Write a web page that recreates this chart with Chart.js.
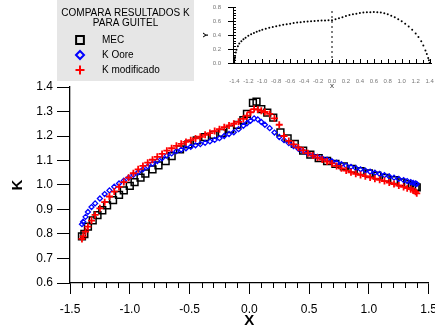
<!DOCTYPE html>
<html>
<head>
<meta charset="utf-8">
<script src="https://cdn.jsdelivr.net/npm/chart.js@4.4.0/dist/chart.umd.min.js"></script>
<style>
  body { margin: 0; background: #fff; }
  #marco { position: relative; width: 435px; height: 328px; }
  #principal { position: absolute; left: 0; top: 0; }
  #perfil { position: absolute; left: 200px; top: 0; }
</style>
</head>
<body>
<div id="marco">
  <canvas id="principal" width="435" height="328"></canvas>
  <canvas id="perfil" width="235" height="92"></canvas>
</div>
<script>
// resultados MEC
const xMec = [-1.40, -1.38, -1.35, -1.31, -1.27, -1.23, -1.19, -1.14, -1.09, -1.05,
  -1.00, -0.96, -0.91, -0.87, -0.81, -0.76, -0.70, -0.65, -0.58, -0.51,
  -0.44, -0.37, -0.30, -0.23, -0.16, -0.10, -0.05, -0.02, 0.03, 0.06,
  0.10, 0.15, 0.20, 0.26, 0.32, 0.38, 0.45, 0.51, 0.58, 0.65,
  0.72, 0.79, 0.86, 0.93, 1.00, 1.07, 1.14, 1.21, 1.27, 1.32,
  1.36, 1.39, 1.40];
const kMec = [0.79, 0.80, 0.83, 0.856, 0.877, 0.897, 0.917, 0.938, 0.960, 0.978,
  0.996, 1.012, 1.030, 1.047, 1.064, 1.080, 1.098, 1.118, 1.145, 1.166,
  1.182, 1.195, 1.205, 1.213, 1.228, 1.245, 1.265, 1.29, 1.335, 1.34,
  1.31, 1.295, 1.275, 1.215, 1.19, 1.168, 1.140, 1.124, 1.110, 1.098,
  1.086, 1.076, 1.066, 1.057, 1.047, 1.038, 1.029, 1.020, 1.011, 1.003,
  0.997, 0.992, 0.990];

// paneles para K Oore y K modificado
const xPanel = [-1.40, -1.39, -1.37, -1.35, -1.32, -1.29, -1.25, -1.21, -1.17, -1.13,
  -1.09, -1.05, -1.01, -0.97, -0.93, -0.89, -0.85, -0.81, -0.77, -0.73,
  -0.69, -0.65, -0.61, -0.57, -0.53, -0.49, -0.45, -0.41, -0.37, -0.33,
  -0.29, -0.25, -0.21, -0.17, -0.13, -0.09, -0.05, -0.02, 0.01, 0.04,
  0.07, 0.10, 0.13, 0.17, 0.21, 0.25, 0.29, 0.33, 0.37, 0.41,
  0.45, 0.49, 0.53, 0.57, 0.61, 0.65, 0.69, 0.73, 0.77, 0.81,
  0.85, 0.89, 0.93, 0.97, 1.01, 1.05, 1.09, 1.13, 1.17, 1.21,
  1.25, 1.29, 1.32, 1.35, 1.37, 1.39, 1.40];
const kOore = [0.84, 0.85, 0.87, 0.89, 0.91, 0.925, 0.945, 0.963, 0.978, 0.993,
  1.006, 1.018, 1.030, 1.041, 1.052, 1.064, 1.076, 1.087, 1.098, 1.109,
  1.120, 1.129, 1.138, 1.144, 1.150, 1.156, 1.162, 1.167, 1.172, 1.178,
  1.184, 1.191, 1.200, 1.208, 1.215, 1.228, 1.242, 1.252, 1.262, 1.272,
  1.268, 1.257, 1.246, 1.232, 1.214, 1.196, 1.183, 1.171, 1.159, 1.148,
  1.138, 1.129, 1.121, 1.115, 1.109, 1.103, 1.097, 1.091, 1.085, 1.079,
  1.074, 1.069, 1.064, 1.059, 1.054, 1.050, 1.045, 1.040, 1.035, 1.030,
  1.025, 1.020, 1.016, 1.012, 1.009, 1.006, 1.004];
const kModificado = [0.78, 0.79, 0.81, 0.83, 0.855, 0.878, 0.905, 0.93, 0.953, 0.973,
  0.992, 1.012, 1.030, 1.048, 1.064, 1.078, 1.091, 1.103, 1.115, 1.127,
  1.140, 1.150, 1.160, 1.168, 1.176, 1.183, 1.190, 1.197, 1.205, 1.212,
  1.220, 1.228, 1.236, 1.243, 1.250, 1.258, 1.270, 1.283, 1.297, 1.310,
  1.308, 1.303, 1.298, 1.290, 1.272, 1.246, 1.200, 1.180, 1.166, 1.153,
  1.141, 1.130, 1.120, 1.112, 1.104, 1.096, 1.088, 1.078, 1.068, 1.059,
  1.052, 1.046, 1.041, 1.036, 1.031, 1.026, 1.021, 1.016, 1.010, 1.004,
  0.998, 0.992, 0.987, 0.983, 0.978, 0.972, 0.966];

// perfil (grafico chico)
const xPerfil = [-1.40, -1.395, -1.39, -1.38, -1.37, -1.35, -1.33, -1.30, -1.27, -1.24,
  -1.20, -1.16, -1.12, -1.08, -1.04, -1.00, -0.95, -0.90, -0.85, -0.80,
  -0.75, -0.70, -0.65, -0.60, -0.55, -0.50, -0.45, -0.40, -0.35, -0.30,
  -0.25, -0.20, -0.15, -0.10, -0.05, 0.00, 0.05, 0.10, 0.15, 0.20,
  0.25, 0.30, 0.35, 0.40, 0.45, 0.50, 0.55, 0.60, 0.65, 0.70,
  0.75, 0.80, 0.85, 0.90, 0.95, 1.00, 1.05, 1.10, 1.15, 1.20,
  1.24, 1.28, 1.31, 1.34, 1.36, 1.38, 1.39, 1.40];
const yPerfil = [0.0, 0.06, 0.10, 0.15, 0.19, 0.24, 0.28, 0.31, 0.34, 0.36,
  0.39, 0.41, 0.43, 0.445, 0.46, 0.475, 0.49, 0.505, 0.515, 0.525,
  0.535, 0.545, 0.555, 0.562, 0.57, 0.577, 0.583, 0.588, 0.593, 0.597,
  0.60, 0.603, 0.606, 0.608, 0.61, 0.612, 0.625, 0.64, 0.655, 0.67,
  0.685, 0.695, 0.705, 0.713, 0.72, 0.724, 0.726, 0.727, 0.725, 0.72,
  0.71, 0.695, 0.675, 0.652, 0.625, 0.595, 0.56, 0.52, 0.475, 0.42,
  0.37, 0.31, 0.25, 0.18, 0.13, 0.07, 0.04, 0.0];
const xCorte = [0, 0];
const yCorte = [0, 0.75];

const ticksX = [-1.5, -1.0, -0.5, 0.0, 0.5, 1.0, 1.5];
const ticksK = [0.6, 0.7, 0.8, 0.9, 1.0, 1.1, 1.2, 1.3, 1.4];
const ticksPerfilX = [-1.4, -1.2, -1.0, -0.8, -0.6, -0.4, -0.2, 0.0, 0.2, 0.4, 0.6, 0.8, 1.0, 1.2, 1.4];
const ticksPerfilY = [0.0, 0.2, 0.4, 0.6, 0.8];
const tituloLeyenda = ['COMPARA RESULTADOS K', 'PARA GUITEL'];

const fuente = '"Liberation Sans", Arial, sans-serif';
Chart.defaults.font.family = fuente;

function puntos(xs, ys) {
  return xs.map((x, i) => ({ x: x, y: ys[i] }));
}

// caja gris de la leyenda
const cajaLeyenda = {
  id: 'cajaLeyenda',
  afterDraw(chart) {
    const ctx = chart.ctx;
    ctx.save();
    ctx.fillStyle = '#e6e6e6';
    ctx.fillRect(57, 0, 137, 81);
    ctx.fillStyle = '#000';
    ctx.font = '10px ' + fuente;
    ctx.textAlign = 'center';
    ctx.textBaseline = 'middle';
    ctx.fillText(tituloLeyenda[0], 125.5, 13);
    ctx.fillText(tituloLeyenda[1], 125.5, 23.5);
    ctx.textAlign = 'left';
    chart.data.datasets.forEach((ds, i) => {
      const y = 40 + i * 15;
      ctx.strokeStyle = ds.borderColor;
      ctx.fillStyle = 'rgba(0,0,0,0)';
      ctx.lineWidth = 2;
      Chart.helpers.drawPoint(ctx, { pointStyle: ds.pointStyle, radius: ds.radioLeyenda, borderWidth: 2, rotation: 0 }, 80, y);
      ctx.fillStyle = '#000';
      ctx.fillText(ds.label, 102, y);
    });
    ctx.restore();
  }
};

// marcas menores del eje x
const marcasMenores = {
  id: 'marcasMenores',
  afterDraw(chart) {
    const ctx = chart.ctx;
    const sx = chart.scales.x;
    const abajo = chart.chartArea.bottom;
    ctx.save();
    ctx.strokeStyle = '#000';
    ctx.lineWidth = 1;
    for (let v = -15; v <= 15; v++) {
      if (v % 5 === 0) continue;
      const px = Math.round(sx.getPixelForValue(v / 10)) + 0.5;
      ctx.beginPath();
      ctx.moveTo(px, abajo);
      ctx.lineTo(px, abajo + 5);
      ctx.stroke();
    }
    ctx.restore();
  }
};

new Chart(document.getElementById('principal'), {
  type: 'scatter',
  data: {
    datasets: [
      {
        label: 'MEC',
        data: puntos(xMec, kMec),
        pointStyle: 'rect',
        pointRadius: 4.8,
        radioLeyenda: 5.5,
        borderColor: '#000',
        backgroundColor: 'rgba(0,0,0,0)',
        pointBorderWidth: 1.5,
        order: 3
      },
      {
        label: 'K Oore',
        data: puntos(xPanel, kOore),
        pointStyle: 'rectRot',
        pointRadius: 2.5,
        radioLeyenda: 4,
        borderColor: '#0000ff',
        backgroundColor: 'rgba(0,0,0,0)',
        pointBorderWidth: 1.3,
        order: 2
      },
      {
        label: 'K modificado',
        data: puntos(xPanel, kModificado),
        pointStyle: 'cross',
        pointRadius: 3.5,
        radioLeyenda: 4.5,
        borderColor: '#ff0000',
        backgroundColor: 'rgba(0,0,0,0)',
        pointBorderWidth: 1.8,
        order: 1
      }
    ]
  },
  options: {
    responsive: false,
    animation: false,
    layout: { padding: { top: 87, right: 2, left: 0, bottom: 0 } },
    plugins: { legend: { display: false }, tooltip: { enabled: false } },
    scales: {
      x: {
        type: 'linear',
        min: -1.5,
        max: 1.5,
        afterBuildTicks: s => { s.ticks = ticksX.map(v => ({ value: v })); },
        ticks: { callback: v => v.toFixed(1), color: '#000', font: { size: 12 }, padding: 8, maxRotation: 0, autoSkip: false },
        grid: { drawOnChartArea: false, tickLength: 11, color: '#000', tickWidth: 1 },
        border: { display: true, color: '#000', width: 1.3 },
        title: { display: true, text: 'X', color: '#000', font: { size: 15, weight: 'bold', lineHeight: 1 }, padding: { top: 0, bottom: 0 } },
        afterFit: s => { s.height = 45; s.paddingLeft = 0; s.paddingRight = 0; }
      },
      y: {
        min: 0.6,
        max: 1.4,
        afterBuildTicks: s => { s.ticks = ticksK.map(v => ({ value: v })); },
        ticks: { callback: v => v.toFixed(1), color: '#000', font: { size: 12 }, padding: 4 },
        grid: { drawOnChartArea: false, tickLength: 13, color: '#000', tickWidth: 1 },
        border: { display: true, color: '#000', width: 1.3 },
        title: { display: true, text: 'K', color: '#000', font: { size: 15, weight: 'bold', lineHeight: 1 }, padding: { top: 10, bottom: 0 } },
        afterFit: s => { s.width = 70; s.paddingTop = 0; s.paddingBottom = 0; }
      }
    }
  },
  plugins: [cajaLeyenda, marcasMenores]
});

// marcas hacia adentro del grafico chico
const marcasPerfil = {
  id: 'marcasPerfil',
  afterDraw(chart) {
    const ctx = chart.ctx;
    const sx = chart.scales.x;
    const sy = chart.scales.y;
    const a = chart.chartArea;
    ctx.save();
    ctx.strokeStyle = '#000';
    ctx.lineWidth = 1;
    for (let v = -14; v <= 14; v++) {
      const px = Math.round(sx.getPixelForValue(v / 10)) + 0.5;
      ctx.beginPath();
      ctx.moveTo(px, a.bottom);
      ctx.lineTo(px, a.bottom - (v % 2 === 0 ? 4 : 3));
      ctx.stroke();
    }
    for (let v = 0; v <= 20; v++) {
      const py = Math.round(sy.getPixelForValue(v * 0.04)) + 0.5;
      ctx.beginPath();
      ctx.moveTo(a.left, py);
      ctx.lineTo(a.left + 3, py);
      ctx.stroke();
    }
    ctx.restore();
  }
};

new Chart(document.getElementById('perfil'), {
  type: 'scatter',
  data: {
    datasets: [
      {
        data: puntos(xPerfil, yPerfil),
        pointRadius: 1,
        pointBorderWidth: 0,
        pointBackgroundColor: '#000',
        showLine: false
      },
      {
        data: puntos(xCorte, yCorte),
        showLine: true,
        borderColor: '#000',
        borderWidth: 1,
        borderDash: [2, 3],
        pointRadius: 0
      }
    ]
  },
  options: {
    responsive: false,
    animation: false,
    layout: { padding: { top: 7, right: 0, left: 0, bottom: 0 } },
    plugins: { legend: { display: false }, tooltip: { enabled: false } },
    scales: {
      x: {
        type: 'linear',
        min: -1.42,
        max: 1.42,
        afterBuildTicks: s => { s.ticks = ticksPerfilX.map(v => ({ value: v })); },
        ticks: { callback: v => v.toFixed(1), color: '#777', font: { size: 6 }, padding: 5, maxRotation: 0, autoSkip: false },
        grid: { drawOnChartArea: false, tickLength: 10, tickColor: 'rgba(0,0,0,0)' },
        border: { display: true, color: '#000', width: 1 },
        title: { display: true, text: 'x', color: '#333', font: { size: 8, lineHeight: 1 }, padding: { top: 0, bottom: 2 } },
        afterFit: s => { s.height = 29; s.paddingLeft = 0; s.paddingRight = 0; }
      },
      y: {
        min: 0,
        max: 0.8,
        afterBuildTicks: s => { s.ticks = ticksPerfilY.map(v => ({ value: v })); },
        ticks: { callback: v => v.toFixed(1), color: '#777', font: { size: 6 }, padding: 7 },
        grid: { drawOnChartArea: false, tickLength: 5, color: '#000', tickWidth: 1 },
        border: { display: true, color: '#000', width: 1 },
        title: { display: true, text: 'Y', color: '#000', font: { size: 8, weight: 'bold', lineHeight: 1 }, padding: { top: 2, bottom: 0 } },
        afterFit: s => { s.width = 33; s.paddingTop = 0; s.paddingBottom = 0; }
      }
    }
  },
  plugins: [marcasPerfil]
});
</script>
</body>
</html>
